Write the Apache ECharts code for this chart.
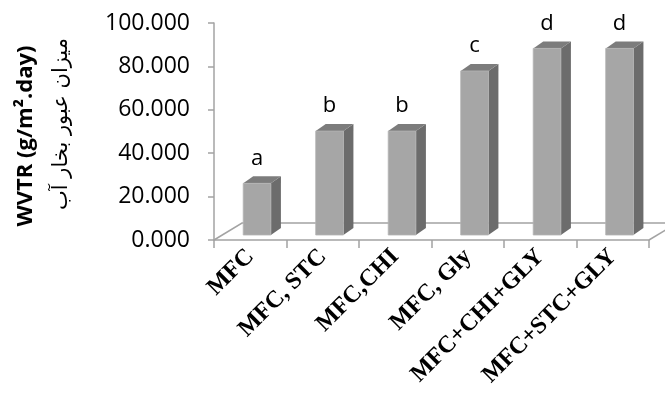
<!DOCTYPE html>
<html>
<head>
<meta charset="utf-8">
<script src="https://cdn.jsdelivr.net/npm/echarts@6/dist/echarts.min.js"></script>
<style>
  html, body { margin: 0; padding: 0; background: #fff; }
  #chart { width: 665px; height: 396px; }
</style>
</head>
<body>
<div id="chart"></div>
<script>
// Treatments and their water vapour transmission rates
const categories = ['MFC', 'MFC, STC', 'MFC,CHI', 'MFC, Gly', 'MFC+CHI+GLY', 'MFC+STC+GLY'];
const wvtr = [23.8, 47.9, 47.9, 75.6, 86.0, 86.0];
const groups = ['a', 'b', 'b', 'c', 'd', 'd'];
const yTicks = [0, 20, 40, 60, 80, 100];

const LINE = '#a3a3a3';
const DEPTH_X = 10, DEPTH_Y = 7;     // bar depth
const FLOOR_X = 28, FLOOR_Y = 17;    // floor depth
const LIFT = 5;                      // bars stand a little back on the floor

const chart = echarts.init(document.getElementById('chart'), null, { renderer: 'canvas' });

function renderFloor(params, api) {
  const bw = api.size([1, 0])[0];
  const first = api.coord([0, 0]);
  const last = api.coord([categories.length - 1, 0]);
  const xl = first[0] - bw / 2, xr = last[0] + bw / 2, y = first[1];
  const st = { stroke: LINE, lineWidth: 1.5, fill: null };
  return {
    type: 'group',
    children: [
      { type: 'polyline', shape: { points: [[xl, y], [xl + FLOOR_X, y - FLOOR_Y], [xr + FLOOR_X, y - FLOOR_Y]] }, style: st },
      { type: 'line', shape: { x1: xr, y1: y, x2: xr + FLOOR_X, y2: y - FLOOR_Y }, style: st }
    ]
  };
}

function renderBar(params, api) {
  const i = api.value(0), v = api.value(1);
  const base = api.coord([i, 0]);
  const top = api.coord([i, v]);
  const bw = api.size([1, 0])[0];
  const x0 = base[0] - bw * 0.097, x1 = base[0] + bw * 0.285;
  const yb = base[1] - LIFT, yt = top[1] - LIFT;
  return {
    type: 'group',
    children: [
      { type: 'polygon', shape: { points: [[x1, yb], [x1 + DEPTH_X, yb - DEPTH_Y], [x1 + DEPTH_X, yt - DEPTH_Y], [x1, yt]] },
        style: { fill: '#6c6c6c' } },
      { type: 'polygon', shape: { points: [[x0, yt], [x1, yt], [x1 + DEPTH_X, yt - DEPTH_Y], [x0 + DEPTH_X, yt - DEPTH_Y]] },
        style: { fill: '#7c7c7c' } },
      { type: 'rect', shape: { x: x0, y: yt, width: x1 - x0, height: yb - yt },
        style: { fill: '#a6a6a6', stroke: '#b4b4b4', lineWidth: 0.8 } },
      { type: 'text', x: (x0 + x1) / 2, y: yt - 25,
        style: { text: groups[i], font: '22px "Open Sans"', fill: '#000', align: 'center', verticalAlign: 'middle' } }
    ]
  };
}

chart.setOption({
  animation: false,
  grid: { left: 214, right: 16, top: 23, bottom: 156 },
  xAxis: {
    type: 'category',
    data: categories,
    boundaryGap: true,
    axisLine: { lineStyle: { color: LINE, width: 1.5 } },
    axisTick: { show: true, length: 8, lineStyle: { color: LINE, width: 1.5 } },
    axisLabel: {
      rotate: 45, margin: 13, color: '#000', interval: 0,
      fontFamily: '"Liberation Serif"', fontWeight: 'bold', fontSize: 24
    },
    splitLine: { show: false }
  },
  yAxis: {
    type: 'value',
    min: yTicks[0], max: yTicks[yTicks.length - 1], interval: 20,
    axisLine: { show: true, lineStyle: { color: LINE, width: 1.5 } },
    axisTick: { show: true, length: 6, lineStyle: { color: LINE, width: 1.5 } },
    axisLabel: {
      margin: 24, color: '#000', fontFamily: '"Open Sans"', fontSize: 23,
      formatter: v => v.toFixed(3)
    },
    splitLine: { show: false }
  },
  graphic: [
    { type: 'text', x: 26, y: 136, rotation: Math.PI / 2,
      style: { text: 'WVTR (g/m\u00B2.day)', font: 'bold 22px "Open Sans"', fill: '#000', align: 'center', verticalAlign: 'middle' } },
    { type: 'text', x: 62, y: 124, rotation: Math.PI / 2,
      style: { text: 'میزان عبور بخار آب', font: '21px "DejaVu Sans"', fill: '#000', align: 'center', verticalAlign: 'middle' } }
  ],
  series: [
    { type: 'custom', data: [[0, 0]], renderItem: renderFloor, silent: true, z: 1 },
    { type: 'custom', data: wvtr.map((v, i) => [i, v]), renderItem: renderBar, silent: true, z: 2 }
  ]
});
</script>
</body>
</html>
